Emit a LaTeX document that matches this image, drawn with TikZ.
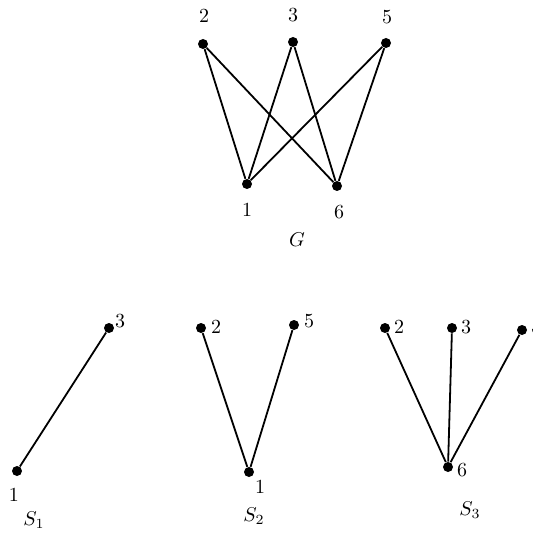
\documentclass[tikz,border=0pt]{standalone}
\usepackage{amsmath,amssymb}
\usepackage{tikz}
\usetikzlibrary{positioning}

\tikzset{
  vtx/.style={circle, fill=black, inner sep=0pt, minimum size=5pt},
  edg/.style={line width=0.9pt}
}

\begin{document}
\begin{tikzpicture}[x=0.5pt, y=-0.5pt]
  \useasboundingbox (0,0) rectangle (532,539);
  % graph G
  \node[vtx] (g2) at (203,44) {};
  \node[vtx] (g3) at (293,42) {};
  \node[vtx] (g5) at (386,43) {};
  \node[vtx] (g1) at (247,184) {};
  \node[vtx] (g6) at (337,186) {};
  \node (lg2) at (204,16) {$2$};
  \node (lg3) at (293,15) {$3$};
  \node (lg5) at (387,17) {$5$};
  \node (lg1) at (247,210) {$1$};
  \node (lg6) at (339,212) {$6$};
  \node (nameG) at (297,240) {$G$};
  \foreach \a/\b in {g2/g1, g2/g6, g3/g1, g3/g6, g5/g1, g5/g6}
    \draw[edg] (\a) -- (\b);

  % star S1
  \node[vtx] (a1) at (17,471) {};
  \node[vtx] (a3) at (109,328) {};
  \node (la1) at (14,495) {$1$};
  \node (la3) at (120,321) {$3$};
  \node (nameS1) at (34,520) {$S_1$};
  \draw[edg] (a1) -- (a3);

  % star S2
  \node[vtx] (b2) at (201,328) {};
  \node[vtx] (b5) at (294,325) {};
  \node[vtx] (b1) at (249,472) {};
  \node (lb2) at (216,327) {$2$};
  \node (lb5) at (309,321) {$5$};
  \node (lb1) at (260,487) {$1$};
  \node (nameS2) at (254,516) {$S_2$};
  \draw[edg] (b2) -- (b1);
  \draw[edg] (b5) -- (b1);

  % star S3
  \node[vtx] (c2) at (385,328) {};
  \node[vtx] (c3) at (452,328) {};
  \node[vtx] (c5) at (522,330) {};
  \node[vtx] (c6) at (448,467) {};
  \node (lc2) at (399,327) {$2$};
  \node (lc3) at (466,327) {$3$};
  \node (lc5) at (536,327) {$5$};
  \node (lc6) at (462,470) {$6$};
  \node (nameS3) at (470,510) {$S_3$};
  \draw[edg] (c2) -- (c6);
  \draw[edg] (c3) -- (c6);
  \draw[edg] (c5) -- (c6);
\end{tikzpicture}
\end{document}
